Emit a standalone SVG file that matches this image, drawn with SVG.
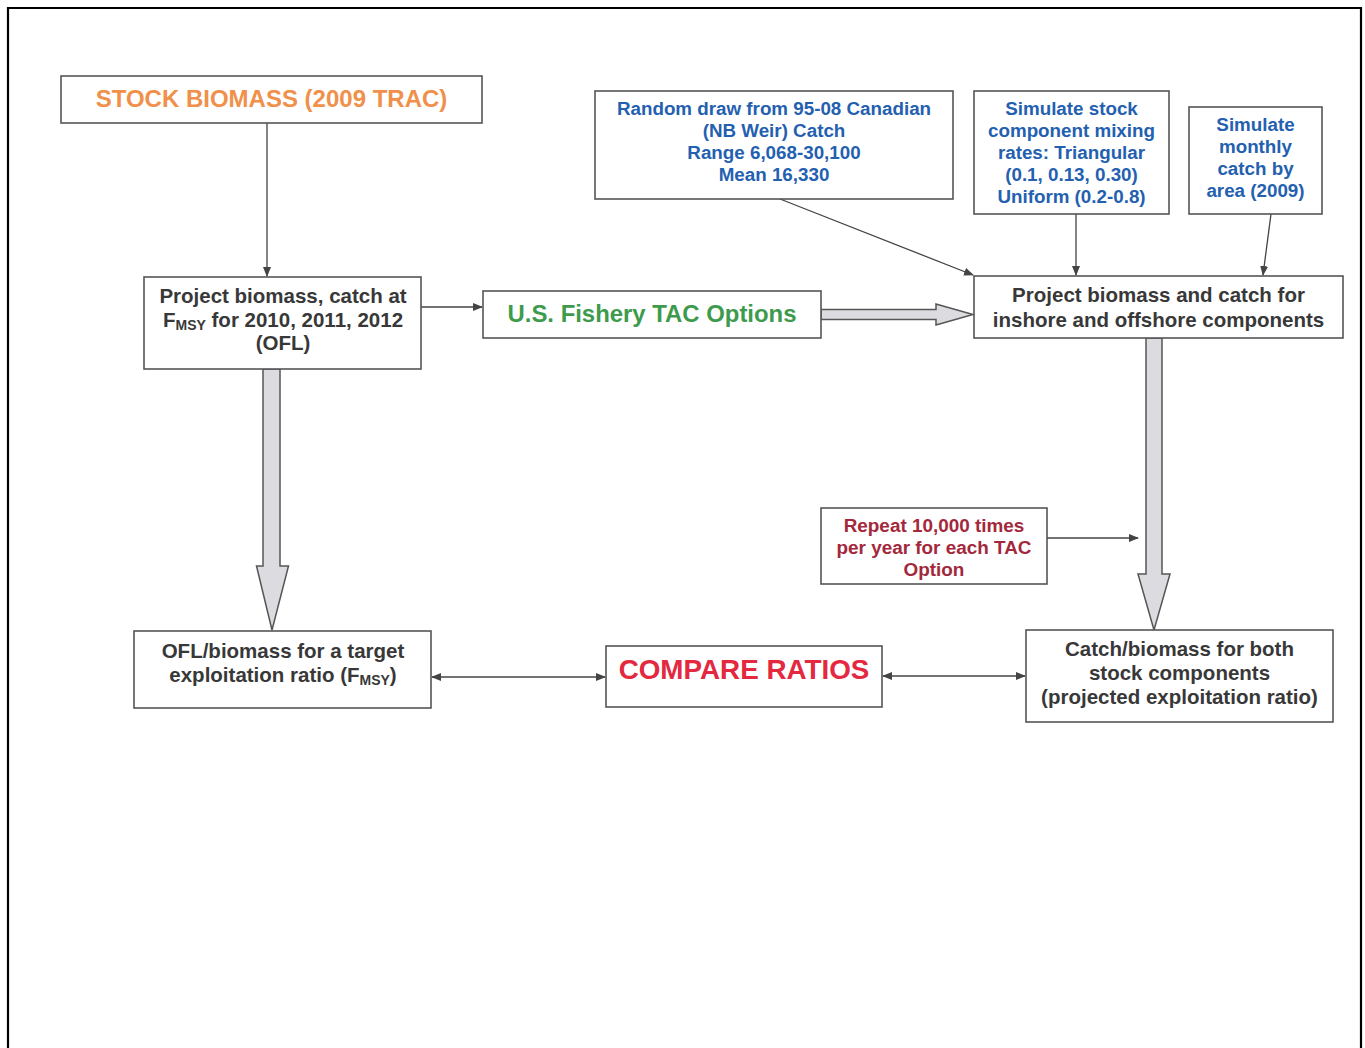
<svg xmlns="http://www.w3.org/2000/svg" width="1365" height="1048" viewBox="0 0 1365 1048">
<defs>
<style>
.box{fill:#fff;stroke:#555;stroke-width:1.6}
text{font-family:"Liberation Sans",Arial,sans-serif;font-weight:bold;text-anchor:middle}
.dk{fill:#383838;font-size:20.5px}
.bl{fill:#2460b0;font-size:18.8px}
.rd{fill:#a3283c;font-size:18.9px}
.ln{stroke:#444;stroke-width:1.3;fill:none}
.blk{fill:#dcdce0;stroke:#555;stroke-width:1.5}
.sub{font-size:14px}
</style>
<marker id="ah" markerWidth="10" markerHeight="8" refX="9" refY="4" orient="auto" markerUnits="userSpaceOnUse">
<path d="M0,0 L10,4 L0,8 Z" fill="#444"/>
</marker>
<marker id="as" markerWidth="10" markerHeight="8" refX="1" refY="4" orient="auto" markerUnits="userSpaceOnUse">
<path d="M10,0 L0,4 L10,8 Z" fill="#444"/>
</marker>
</defs>
<rect x="0" y="0" width="1365" height="1048" fill="#fff"/>
<path d="M8,1048 V8 H1361 V1048" fill="none" stroke="#000" stroke-width="2.2"/>

<g id="connectors">
<line class="ln" x1="267" y1="123" x2="267" y2="276" marker-end="url(#ah)"/>
<line class="ln" x1="421" y1="307" x2="482" y2="307" marker-end="url(#ah)"/>
<line class="ln" x1="780" y1="199" x2="973" y2="275" marker-end="url(#ah)"/>
<line class="ln" x1="1076" y1="214" x2="1076" y2="275" marker-end="url(#ah)"/>
<line class="ln" x1="1271" y1="214" x2="1263" y2="275" marker-end="url(#ah)"/>
<line class="ln" x1="1047" y1="538" x2="1138" y2="538" marker-end="url(#ah)"/>
<line class="ln" x1="432" y1="677" x2="605" y2="677" marker-start="url(#as)" marker-end="url(#ah)"/>
<line class="ln" x1="883" y1="676" x2="1025" y2="676" marker-start="url(#as)" marker-end="url(#ah)"/>
<path class="blk" d="M821,309.5 H936 V304 L973,314.5 L936,325 V319.5 H821 Z"/>
<path class="blk" d="M263,369 V566 H256.5 L272,630 L288.5,566 H280 V369 Z"/>
<path class="blk" d="M1146,338 V574 H1138 L1154,630 L1170,574 H1162 V338 Z"/>
</g>

<g id="stock-biomass">
<rect class="box" x="61" y="76" width="421" height="47"/>
<text x="271.5" y="107" style="fill:#f0904a;font-size:24px">STOCK BIOMASS (2009 TRAC)</text>
</g>

<g id="project-ofl">
<rect class="box" x="144" y="277" width="277" height="92"/>
<text class="dk" x="283" y="303">Project biomass, catch at</text>
<text class="dk" x="283" y="327">F<tspan class="sub" dy="3">MSY</tspan><tspan dy="-3"> for 2010, 2011, 2012</tspan></text>
<text class="dk" x="283" y="350">(OFL)</text>
</g>

<g id="us-tac">
<rect class="box" x="483" y="291" width="338" height="47"/>
<text x="652" y="322" style="fill:#3e9a4c;font-size:23.9px">U.S. Fishery TAC Options</text>
</g>

<g id="random-draw">
<rect class="box" x="595" y="91" width="358" height="108"/>
<text class="bl" x="774" y="115">Random draw from 95-08 Canadian</text>
<text class="bl" x="774" y="137">(NB Weir) Catch</text>
<text class="bl" x="774" y="159">Range 6,068-30,100</text>
<text class="bl" x="774" y="181">Mean 16,330</text>
</g>

<g id="simulate-mixing">
<rect class="box" x="974" y="91" width="195" height="123"/>
<text class="bl" x="1071.5" y="115">Simulate stock</text>
<text class="bl" x="1071.5" y="137">component mixing</text>
<text class="bl" x="1071.5" y="159">rates: Triangular</text>
<text class="bl" x="1071.5" y="181">(0.1, 0.13, 0.30)</text>
<text class="bl" x="1071.5" y="203">Uniform (0.2-0.8)</text>
</g>

<g id="simulate-monthly">
<rect class="box" x="1189" y="107" width="133" height="107"/>
<text class="bl" x="1255.5" y="131">Simulate</text>
<text class="bl" x="1255.5" y="153">monthly</text>
<text class="bl" x="1255.5" y="175">catch by</text>
<text class="bl" x="1255.5" y="197">area (2009)</text>
</g>

<g id="project-components">
<rect class="box" x="974" y="276" width="369" height="62"/>
<text class="dk" x="1158.5" y="302">Project biomass and catch for</text>
<text class="dk" x="1158.5" y="327">inshore and offshore components</text>
</g>

<g id="repeat">
<rect class="box" x="821" y="508" width="226" height="76"/>
<text class="rd" x="934" y="532">Repeat 10,000 times</text>
<text class="rd" x="934" y="554">per year for each TAC</text>
<text class="rd" x="934" y="576">Option</text>
</g>

<g id="ofl-biomass">
<rect class="box" x="134" y="631" width="297" height="77"/>
<text class="dk" x="283" y="658">OFL/biomass for a target</text>
<text class="dk" x="283" y="682">exploitation ratio (F<tspan class="sub" dy="3">MSY</tspan><tspan dy="-3">)</tspan></text>
</g>

<g id="compare">
<rect class="box" x="606" y="646" width="276" height="61"/>
<text x="744" y="679" style="fill:#e3283f;font-size:27.8px">COMPARE RATIOS</text>
</g>

<g id="catch-biomass">
<rect class="box" x="1026" y="630" width="307" height="92"/>
<text class="dk" x="1179.5" y="656">Catch/biomass for both</text>
<text class="dk" x="1179.5" y="680">stock components</text>
<text class="dk" x="1179.5" y="704">(projected exploitation ratio)</text>
</g>
</svg>
